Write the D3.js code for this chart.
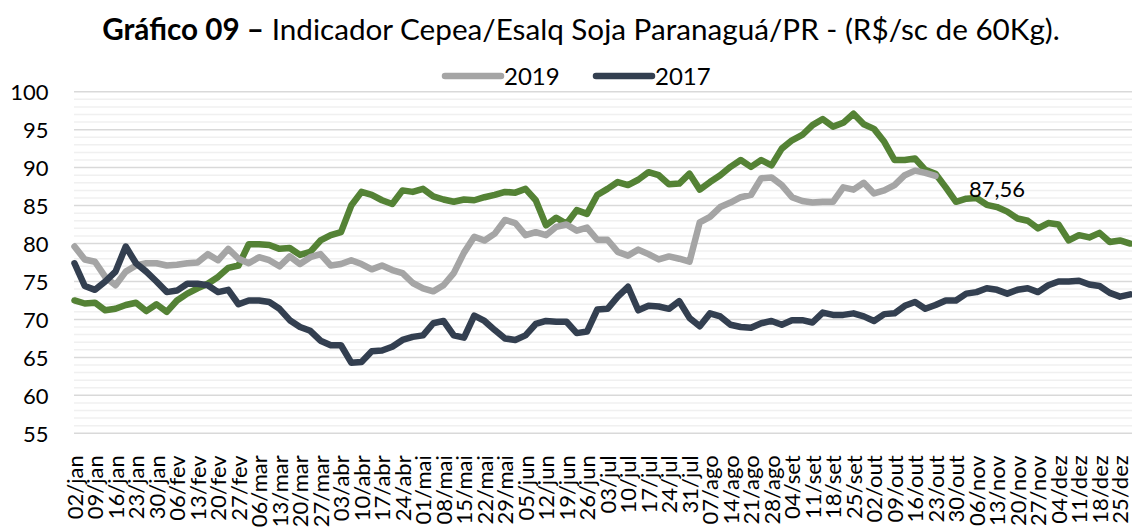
<!DOCTYPE html>
<html>
<head>
<meta charset="utf-8">
<script src="https://cdn.jsdelivr.net/npm/d3@7"></script>
<style>
  body { margin: 0; background: #fff; }
  svg { display: block; font-family: Lato, "Open Sans", sans-serif; }
</style>
</head>
<body>
<div id="chart"></div>
<script>
// weekly category labels on the x axis
const weekLabels = [
  "02/jan", "09/jan", "16/jan", "23/jan", "30/jan", "06/fev", "13/fev", "20/fev", "27/fev",
  "06/mar", "13/mar", "20/mar", "27/mar", "03/abr", "10/abr", "17/abr", "24/abr",
  "01/mai", "08/mai", "15/mai", "22/mai", "29/mai", "05/jun", "12/jun", "19/jun", "26/jun",
  "03/jul", "10/jul", "17/jul", "24/jul", "31/jul", "07/ago", "14/ago", "21/ago", "28/ago",
  "04/set", "11/set", "18/set", "25/set", "02/out", "09/out", "16/out", "23/out", "30/out",
  "06/nov", "13/nov", "20/nov", "27/nov", "04/dez", "11/dez", "18/dez", "25/dez"
];

// prices (R$/sc 60kg), one reading every half week
const serie2018 = [
  72.5, 72.1, 72.2, 71.2, 71.4, 71.9, 72.2, 71.1, 72.0, 71.0, 72.5, 73.4, 74.1, 74.7, 75.6, 76.8,
  77.1, 79.9, 79.9, 79.8, 79.3, 79.4, 78.5, 78.9, 80.4, 81.1,
  81.5, 85.0, 86.8, 86.4, 85.7, 85.2, 87.0, 86.8, 87.2, 86.2, 85.8, 85.5, 85.8, 85.7, 86.1, 86.4,
  86.8, 86.7, 87.2, 85.7, 82.4, 83.4, 82.6, 84.4, 83.9, 86.4,
  87.2, 88.1, 87.7, 88.4, 89.4, 89.0, 87.8, 87.9, 89.2, 87.1, 88.1, 89.0, 90.1, 91.0, 90.1, 91.0,
  90.3, 92.5, 93.6, 94.3, 95.6, 96.4, 95.4, 95.9, 97.1, 95.7,
  95.1, 93.4, 91.0, 91.0, 91.2, 89.7, 89.2, 87.4, 85.5, 85.9, 86.0, 85.1, 84.8, 84.2, 83.3, 83.0,
  82.0, 82.7, 82.5, 80.4, 81.1, 80.8, 81.4, 80.2, 80.4, 80.0
];

const serie2019 = [
  79.6, 77.9, 77.6, 75.6, 74.5, 76.3, 77.1, 77.4, 77.4, 77.1, 77.2, 77.4, 77.5, 78.6, 77.8, 79.3,
  78.0, 77.4, 78.2, 77.8, 77.0, 78.3, 77.3, 78.2, 78.6, 77.1,
  77.3, 77.8, 77.3, 76.6, 77.1, 76.5, 76.1, 74.8, 74.1, 73.7, 74.5, 76.1, 78.8, 80.9, 80.4, 81.3,
  83.1, 82.7, 81.1, 81.5, 81.1, 82.2, 82.5, 81.7, 82.1, 80.5,
  80.5, 78.9, 78.4, 79.2, 78.6, 77.9, 78.3, 78.0, 77.6, 82.8, 83.5, 84.8, 85.4, 86.1, 86.4, 88.6,
  88.7, 87.7, 86.1, 85.6, 85.4, 85.5, 85.5, 87.4, 87.1, 88.0,
  86.6, 87.0, 87.7, 89.0, 89.6, 89.3, 88.9
];

const serie2017 = [
  77.4, 74.4, 73.9, 75.0, 76.3, 79.6, 77.4, 76.3, 75.0, 73.6, 73.8, 74.7, 74.7, 74.5, 73.6, 73.9,
  72.0, 72.5, 72.5, 72.3, 71.4, 69.9, 69.0, 68.5, 67.2, 66.6,
  66.6, 64.3, 64.4, 65.8, 65.9, 66.4, 67.3, 67.7, 67.9, 69.5, 69.8, 67.9, 67.6, 70.5, 69.8, 68.6,
  67.5, 67.3, 67.9, 69.4, 69.8, 69.7, 69.7, 68.2, 68.4, 71.3,
  71.4, 73.0, 74.3, 71.2, 71.8, 71.7, 71.4, 72.4, 70.2, 69.1, 70.8, 70.4, 69.3, 69.0, 68.9, 69.5,
  69.8, 69.3, 69.9, 69.9, 69.6, 70.9, 70.6, 70.6, 70.8, 70.4,
  69.8, 70.7, 70.8, 71.8, 72.3, 71.4, 71.9, 72.5, 72.5, 73.4, 73.6, 74.1, 73.9, 73.4, 73.9, 74.1,
  73.6, 74.5, 75.0, 75.0, 75.1, 74.6, 74.4, 73.5, 73.0, 73.3
];

const yTicks = [55, 60, 65, 70, 75, 80, 85, 90, 95, 100];
const highlightLabel = "87,56";
const highlightIndex = 90;

const width = 1132;
const height = 527;
const plot = { left: 74.5, right: 1130.25, top: 91.7, bottom: 433.3 };

const colors = { y2019: "#a5a5a5", y2017: "#333f50", y2018: "#548235" };

const svg = d3.select("#chart").append("svg")
  .attr("width", width)
  .attr("height", height)
  .attr("viewBox", `0 0 ${width} ${height}`);

/** scales **/
const x = d3.scaleLinear().domain([0, 51.5]).range([plot.left, plot.right]);
const y = d3.scaleLinear().domain([55, 100]).range([plot.bottom, plot.top]);

/** grid **/
const grid = svg.append("g");
grid.selectAll("line.minor")
  .data(d3.range(55, 101).filter((v) => v % 5 !== 0))
  .join("line")
  .attr("class", "minor")
  .attr("x1", plot.left - 0.5)
  .attr("x2", width)
  .attr("y1", (d) => y(d))
  .attr("y2", (d) => y(d))
  .attr("stroke", "#f0f0f0")
  .attr("stroke-width", 1.5);

grid.selectAll("line.major")
  .data(yTicks)
  .join("line")
  .attr("class", "major")
  .attr("x1", plot.left - 0.5)
  .attr("x2", width)
  .attr("y1", (d) => y(d))
  .attr("y2", (d) => y(d))
  .attr("stroke", "#d9d9d9")
  .attr("stroke-width", 1.5);

/** y axis **/
svg.append("g")
  .attr("transform", `translate(${plot.left}, 0)`)
  .call(d3.axisLeft(y).tickValues(yTicks).tickSize(0).tickPadding(26))
  .call((g) => {
    g.select(".domain").remove();
    g.selectAll("text")
      .attr("fill", "#000")
      .attr("font-size", 22)
      .attr("font-family", "Lato, sans-serif")
      .attr("dy", "0.36em");
  });

/** x axis **/
svg.append("g")
  .attr("transform", `translate(0, ${plot.bottom})`)
  .call(
    d3.axisBottom(x)
      .tickValues(weekLabels.map((_, i) => i))
      .tickFormat((i) => weekLabels[i])
      .tickSize(0)
  )
  .call((g) => {
    g.select(".domain").remove();
    g.selectAll("text")
      .attr("fill", "#000")
      .attr("font-size", 22)
      .attr("font-family", "Lato, sans-serif")
      .attr("transform", "rotate(-90)")
      .attr("x", -22)
      .attr("y", 0)
      .attr("dy", "0.36em")
      .style("text-anchor", "end");
  });

/** lines **/
const line = d3.line()
  .x((d, i) => x(i / 2))
  .y((d) => y(d));

const series = [
  { values: serie2018, color: colors.y2018 },
  { values: serie2019, color: colors.y2019 },
  { values: serie2017, color: colors.y2017 },
];

svg.append("g")
  .selectAll("path")
  .data(series)
  .join("path")
  .attr("d", (d) => line(d.values))
  .attr("fill", "none")
  .attr("stroke", (d) => d.color)
  .attr("stroke-width", 6.5)
  .attr("stroke-linejoin", "round")
  .attr("stroke-linecap", "round");

// data label
svg.append("text")
  .attr("x", x(highlightIndex / 2))
  .attr("y", y(serie2018[highlightIndex]) - 10)
  .attr("text-anchor", "middle")
  .attr("font-size", 22)
  .attr("fill", "#000")
  .text(highlightLabel);

/** legend **/
const legendItems = [
  { label: "2019", color: colors.y2019, x: 445 },
  { label: "2017", color: colors.y2017, x: 596 },
];
const legend = svg.append("g").attr("transform", "translate(0, 76)");
legendItems.forEach((item) => {
  legend.append("line")
    .attr("x1", item.x)
    .attr("x2", item.x + 56)
    .attr("stroke", item.color)
    .attr("stroke-width", 6.5)
    .attr("stroke-linecap", "round");
  legend.append("text")
    .attr("x", item.x + 59)
    .attr("y", 8.5)
    .attr("font-size", 24)
    .attr("fill", "#000")
    .text(item.label);
});

/** title **/
const title = svg.append("text")
  .attr("x", 581)
  .attr("y", 40)
  .attr("text-anchor", "middle")
  .attr("font-size", 25)
  .attr("fill", "#000");
title.append("tspan").attr("font-weight", "bold").text("Gráfico 09 –");
title.append("tspan").text(" Indicador Cepea/Esalq Soja Paranaguá/PR - (R$/sc de 60Kg).");

const titleWidth = title.node().getComputedTextLength();
title.attr("font-size", 25 * 958 / titleWidth);
</script>
</body>
</html>
